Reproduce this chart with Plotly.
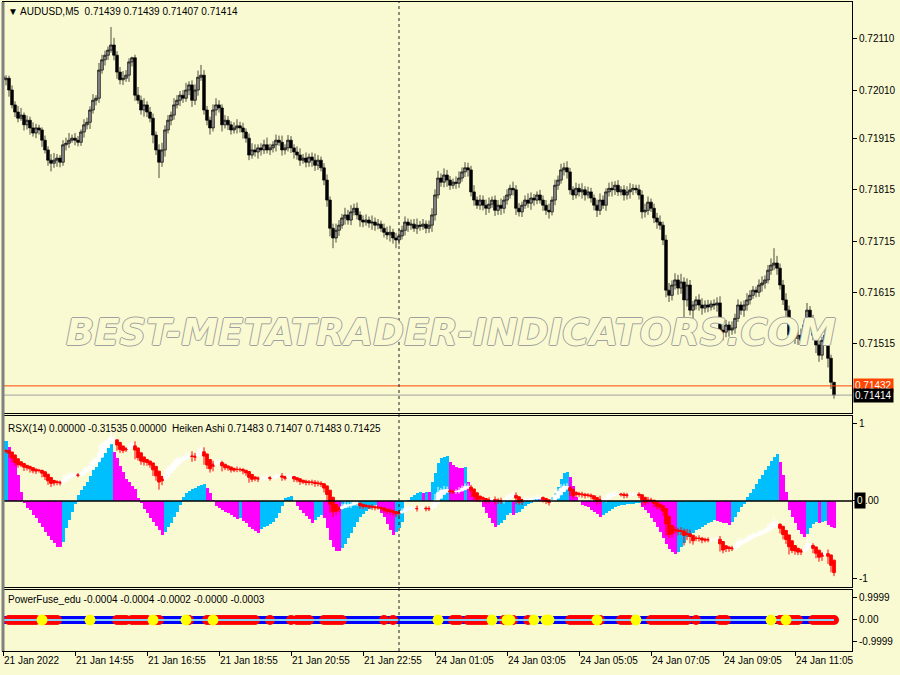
import plotly.graph_objects as go

# ---------------- DATA ----------------
N = 278
bar_index = list(range(N))

# AUDUSD M5 closes, in points (price = pts / 100000)
close_pts = [
    72030, 72033, 72010, 71981, 71967, 71955, 71961, 71942, 71951, 71936,
    71926, 71936, 71932, 71912, 71893, 71873, 71867, 71873, 71877, 71869,
    71903, 71906, 71912, 71916, 71912, 71908, 71928, 71942, 71947, 71971,
    71990, 71994, 72049, 72069, 72078, 72088, 72098, 72078, 72045, 72030,
    72033, 72039, 72065, 72073, 72000, 71990, 71971, 71981, 71967, 71955,
    71922, 71893, 71869, 71893, 71932, 71951, 71961, 71981, 71990, 72000,
    71994, 72010, 72020, 71990, 72010, 72035, 72039, 71971, 71951, 71936,
    71971, 71981, 71975, 71942, 71951, 71942, 71932, 71936, 71940, 71936,
    71928, 71916, 71883, 71893, 71889, 71897, 71893, 71903, 71893, 71897,
    71903, 71912, 71908, 71893, 71897, 71912, 71897, 71889, 71883, 71873,
    71877, 71869, 71879, 71873, 71863, 71873, 71858, 71834, 71795, 71740,
    71721, 71736, 71746, 71760, 71766, 71756, 71772, 71779, 71766, 71756,
    71752, 71756, 71750, 71752, 71746, 71748, 71740, 71732, 71727, 71732,
    71721, 71717, 71725, 71736, 71752, 71746, 71748, 71740, 71746, 71744,
    71748, 71740, 71746, 71766, 71805, 71838, 71830, 71844, 71834, 71824,
    71830, 71828, 71838, 71850, 71858, 71854, 71811, 71795, 71785, 71795,
    71785, 71779, 71787, 71795, 71775, 71785, 71779, 71795, 71805, 71818,
    71815, 71779, 71772, 71785, 71795, 71789, 71799, 71795, 71805, 71795,
    71785, 71775, 71772, 71795, 71824, 71834, 71854, 71858, 71850, 71815,
    71805, 71818, 71811, 71815, 71805, 71811, 71799, 71785, 71775, 71795,
    71785, 71811, 71818, 71815, 71824, 71811, 71815, 71805, 71811, 71815,
    71818, 71815, 71805, 71772, 71775, 71791, 71779, 71760, 71752, 71746,
    71717, 71619, 71609, 71629, 71639, 71623, 71635, 71600, 71629, 71580,
    71590, 71600, 71590, 71584, 71590, 71586, 71592, 71590, 71594, 71541,
    71537, 71551, 71541, 71545, 71564, 71590, 71580, 71590, 71600, 71609,
    71619, 71615, 71629, 71633, 71639, 71658, 71668, 71672, 71662, 71629,
    71600, 71580, 71531, 71541, 71525, 71531, 71521, 71551, 71580, 71560,
    71531, 71512, 71492, 71521, 71531, 71486, 71439, 71414,
]
first_open_pts = 72036
# upper / lower wick lengths beyond the body, in points
wick_up_pts = [
    10, 6, 5, 9, 7, 12, 14, 5, 9, 7, 11, 8, 6, 5, 9, 7, 12, 14, 8, 6,
    9, 11, 14, 7, 10, 8, 5, 11, 9, 7, 12, 6, 14, 10, 9, 7, 35, 14, 8, 10,
    14, 10, 7, 2, 6, 16, 9, 13, 7, 10, 9, 7, 11, 14, 9, 10, 7, 13, 10, 8,
    10, 14, 7, 9, 11, 13, 20, 10, 8, 7, 11, 13, 9, 7, 10, 8, 7, 11, 13, 8,
    10, 7, 9, 13, 11, 7, 9, 10, 14, 8, 7, 11, 9, 13, 7, 10, 8, 7, 11, 13,
    8, 11, 7, 9, 13, 10, 7, 9, 11, 7, 9, 13, 10, 8, 14, 10, 13, 9, 11, 7,
    9, 11, 7, 13, 9, 10, 7, 9, 11, 13, 7, 10, 13, 9, 11, 7, 9, 10, 13, 8,
    10, 7, 9, 13, 11, 14, 9, 13, 10, 8, 7, 11, 13, 9, 11, 10, 8, 13, 7, 10,
    9, 11, 13, 7, 9, 10, 13, 8, 11, 7, 13, 9, 10, 7, 9, 13, 11, 8, 7, 10,
    9, 10, 13, 7, 11, 9, 12, 10, 13, 8, 7, 11, 9, 13, 7, 10, 8, 7, 11, 13,
    9, 7, 11, 13, 8, 10, 7, 9, 11, 13, 8, 7, 10, 9, 13, 11, 7, 9, 10, 13,
    7, 10, 14, 9, 13, 10, 16, 9, 13, 10, 8, 7, 11, 13, 9, 10, 7, 9, 11, 13,
    9, 10, 7, 13, 9, 11, 7, 9, 13, 10, 8, 7, 11, 13, 9, 10, 13, 29, 14, 9,
    10, 13, 9, 7, 11, 9, 13, 10, 14, 8, 11, 13, 9, 7, 10, 9, 7, 0,
]
wick_dn_pts = [
    9, 11, 13, 7, 10, 8, 5, 11, 9, 13, 7, 10, 9, 13, 7, 11, 16, 9, 13, 10,
    7, 11, 9, 5, 10, 8, 7, 11, 9, 13, 7, 10, 9, 7, 11, 9, 5, 10, 13, 9,
    10, 7, 13, 9, 11, 7, 9, 13, 10, 8, 16, 10, 31, 9, 13, 7, 10, 9, 7, 11,
    9, 7, 10, 13, 9, 11, 7, 9, 10, 13, 7, 11, 9, 13, 7, 10, 9, 7, 11, 9,
    13, 9, 10, 7, 9, 13, 11, 8, 7, 10, 9, 13, 7, 11, 9, 7, 10, 13, 9, 11,
    7, 10, 9, 13, 11, 9, 7, 10, 13, 16, 20, 9, 11, 7, 13, 9, 10, 7, 9, 13,
    10, 7, 9, 13, 11, 8, 7, 10, 9, 13, 11, 16, 9, 7, 10, 13, 9, 7, 11, 9,
    7, 10, 9, 13, 11, 7, 9, 10, 13, 9, 7, 11, 9, 7, 10, 13, 9, 11, 7, 9,
    10, 13, 9, 7, 11, 9, 13, 10, 9, 7, 11, 13, 9, 10, 7, 9, 13, 11, 8, 7,
    11, 9, 13, 7, 10, 9, 7, 11, 13, 9, 10, 7, 9, 13, 11, 7, 9, 10, 13, 9,
    7, 11, 9, 13, 10, 8, 7, 11, 9, 13, 10, 7, 9, 13, 11, 9, 7, 10, 13, 9,
    10, 14, 13, 10, 9, 13, 11, 40, 13, 10, 16, 9, 11, 13, 9, 10, 7, 9, 13, 11,
    16, 10, 13, 9, 11, 7, 9, 13, 11, 9, 7, 10, 9, 13, 11, 7, 9, 10, 13, 9,
    10, 13, 16, 9, 11, 13, 9, 10, 7, 13, 10, 16, 13, 9, 10, 18, 13, 7,
]

# RSX(14) histogram values
rsx_values = [
    0.77, 0.78, 0.70, 0.60, 0.50, 0.33, 0.12, -0.02, -0.09, -0.12,
    -0.18, -0.22, -0.28, -0.33, -0.40, -0.45, -0.50, -0.54, -0.59, -0.60,
    -0.53, -0.35, -0.25, -0.14, -0.04, 0.08, 0.14, 0.20, 0.25, 0.32,
    0.40, 0.44, 0.52, 0.57, 0.62, 0.68, 0.74, 0.63, 0.55, 0.45,
    0.37, 0.28, 0.24, 0.20, 0.15, 0.04, -0.03, -0.10, -0.16, -0.22,
    -0.27, -0.32, -0.37, -0.44, -0.40, -0.34, -0.28, -0.21, -0.14, -0.05,
    0.05, 0.10, 0.13, 0.16, 0.17, 0.19, 0.21, 0.22, 0.17, 0.10,
    0.01, -0.07, -0.09, -0.12, -0.14, -0.16, -0.18, -0.21, -0.23, -0.22,
    -0.26, -0.29, -0.33, -0.36, -0.39, -0.41, -0.36, -0.34, -0.32, -0.30,
    -0.27, -0.22, -0.15, -0.06, 0.04, 0.05, 0.06, 0.00, -0.06, -0.11,
    -0.15, -0.19, -0.23, -0.28, -0.25, -0.21, -0.18, -0.22, -0.35, -0.50,
    -0.60, -0.64, -0.65, -0.61, -0.55, -0.48, -0.41, -0.33, -0.27, -0.21,
    -0.17, -0.13, -0.10, -0.07, -0.05, -0.09, -0.15, -0.21, -0.30, -0.37,
    -0.44, -0.40, -0.35, -0.27, 0.00, 0.01, 0.05, 0.08, 0.10, 0.11,
    0.10, 0.12, 0.11, 0.24, 0.36, 0.49, 0.56, 0.57, 0.58, 0.50,
    0.47, 0.44, 0.43, 0.42, 0.44, 0.25, 0.17, 0.08, 0.05, 0.01,
    -0.08, -0.15, -0.22, -0.28, -0.34, -0.31, -0.29, -0.25, -0.18, -0.16,
    -0.18, -0.15, -0.14, -0.10, -0.07, -0.04, -0.02, 0.02, 0.03, 0.02,
    0.01, 0.00, 0.01, 0.05, 0.10, 0.18, 0.28, 0.36, 0.38, 0.31,
    0.20, 0.05, 0.00, -0.05, -0.06, -0.08, -0.11, -0.14, -0.17, -0.20,
    -0.18, -0.16, -0.13, -0.10, -0.08, -0.06, -0.055, -0.05, -0.045, -0.04,
    -0.035, -0.03, -0.03, -0.08, -0.12, -0.16, -0.22, -0.27, -0.33, -0.40,
    -0.48, -0.55, -0.62, -0.66, -0.68, -0.66, -0.60, -0.54, -0.47, -0.44,
    -0.41, -0.38, -0.36, -0.33, -0.31, -0.29, -0.27, -0.25, -0.26, -0.27,
    -0.28, -0.29, -0.31, -0.27, -0.20, -0.14, -0.08, -0.04, 0.05, 0.10,
    0.16, 0.22, 0.28, 0.34, 0.40, 0.45, 0.51, 0.57, 0.61, 0.50,
    0.33, 0.11, -0.12, -0.20, -0.28, -0.37, -0.42, -0.46, -0.42, -0.35,
    -0.30, -0.27, -0.28, -0.27, -0.26, -0.31, -0.33, -0.35,
]

# PowerFuse_edu: bar ranges with red dots, bars with yellow dots
pf_red_ranges = [
    (2, 11), (14, 18), (38, 41), (43, 48), (51, 52), (62, 62), (68, 69),
    (71, 84), (89, 89), (96, 96), (98, 102), (107, 113), (127, 127),
    (130, 130), (150, 152), (155, 161), (167, 170), (175, 175),
    (189, 197), (199, 199), (206, 209), (216, 228), (231, 231),
    (239, 241), (259, 265), (270, 277),
]
pf_yellow_bars = [13, 29, 50, 61, 70, 145, 163, 168, 169, 177, 181, 182,
                  198, 211, 256, 261]
pf_value = 0.0

tick_bars = [0, 24, 48, 72, 96, 120, 144, 168, 192, 216, 240, 264]
tick_labels = ["21 Jan 2022", "21 Jan 14:55", "21 Jan 16:55", "21 Jan 18:55",
               "21 Jan 20:55", "21 Jan 22:55", "24 Jan 01:05", "24 Jan 03:05",
               "24 Jan 05:05", "24 Jan 07:05", "24 Jan 09:05", "24 Jan 11:05"]
price_ticks = [0.72110, 0.72010, 0.71915, 0.71815, 0.71715, 0.71615, 0.71515]
ask_price = 0.71432
bid_price = 0.71414
marker_bar = 132

# ---------------- BUILD ----------------
opens_pts = [first_open_pts] + close_pts[:-1]
o = [p / 1e5 for p in opens_pts]
c = [p / 1e5 for p in close_pts]
h = [(max(a, b) + u) / 1e5 for a, b, u in zip(opens_pts, close_pts, wick_up_pts)]
l = [(min(a, b) - d) / 1e5 for a, b, d in zip(opens_pts, close_pts, wick_dn_pts)]

# Heiken Ashi
ha_c = [(o[i] + h[i] + l[i] + c[i]) / 4 for i in range(N)]
ha_o = [(o[0] + c[0]) / 2]
for i in range(1, N):
    ha_o.append((ha_o[i - 1] + ha_c[i - 1]) / 2)
ha_h = [max(h[i], ha_o[i], ha_c[i]) for i in range(N)]
ha_l = [min(l[i], ha_o[i], ha_c[i]) for i in range(N)]

rsx_colors = []
for i, v in enumerate(rsx_values):
    up = i == 0 or v >= rsx_values[i - 1]
    rsx_colors.append("#00BFFF" if up else "#FF00FF")

red_bars = []
for a, b in pf_red_ranges:
    red_bars.extend(range(a, b + 1))

BG = "#FAFAD2"
FONT = "Liberation Sans, Arial, sans-serif"
FS = 10

fig = go.Figure()

fig.add_trace(go.Candlestick(
    x=bar_index, open=o, high=h, low=l, close=c, xaxis="x", yaxis="y",
    increasing=dict(line=dict(color="black", width=0.7), fillcolor="#8c8c8c"),
    decreasing=dict(line=dict(color="black", width=0.7), fillcolor="black"),
    whiskerwidth=0, showlegend=False, hoverinfo="skip"))

fig.add_trace(go.Bar(
    x=bar_index, y=rsx_values, xaxis="x2", yaxis="y2", width=1.0,
    marker=dict(color=rsx_colors, line=dict(width=0)), showlegend=False))

fig.add_trace(go.Candlestick(
    x=bar_index, open=ha_o, high=ha_h, low=ha_l, close=ha_c, xaxis="x2", yaxis="y4",
    increasing=dict(line=dict(color="white", width=1), fillcolor="white"),
    decreasing=dict(line=dict(color="red", width=1), fillcolor="red"),
    whiskerwidth=0, showlegend=False, hoverinfo="skip"))

fig.add_trace(go.Scatter(
    x=bar_index, y=[pf_value] * N, xaxis="x3", yaxis="y3", mode="lines",
    line=dict(color="#0000FF", width=8), showlegend=False))
fig.add_trace(go.Scatter(
    x=red_bars, y=[pf_value] * len(red_bars), xaxis="x3", yaxis="y3", mode="markers",
    marker=dict(color="#FF0000", size=10, line=dict(width=0)), showlegend=False))
fig.add_trace(go.Scatter(
    x=bar_index, y=[pf_value] * N, xaxis="x3", yaxis="y3", mode="lines",
    line=dict(color="#87CEFA", width=2), showlegend=False))
fig.add_trace(go.Scatter(
    x=pf_yellow_bars, y=[pf_value] * len(pf_yellow_bars), xaxis="x3", yaxis="y3",
    mode="markers", marker=dict(color="#FFFF00", size=11, line=dict(width=0)),
    showlegend=False))

axis_common = dict(showgrid=False, zeroline=False, showline=True, linecolor="black",
                   linewidth=1, mirror=True)
xr = [0, 283]
fig.update_layout(
    width=900, height=675,
    margin=dict(l=3, r=48, t=2, b=24, autoexpand=False),
    paper_bgcolor=BG, plot_bgcolor=BG,
    font=dict(family=FONT, size=FS, color="black"),
    bargap=0, boxgap=0.1, boxgroupgap=0,
    xaxis=dict(domain=[0, 1], anchor="y", range=xr, showticklabels=False, ticks="",
               rangeslider=dict(visible=False), **axis_common),
    xaxis2=dict(domain=[0, 1], anchor="y2", range=xr, matches="x", showticklabels=False,
                ticks="", rangeslider=dict(visible=False), **axis_common),
    xaxis3=dict(domain=[0, 1], anchor="y3", range=xr, matches="x", tickmode="array",
                tickvals=tick_bars, ticktext=tick_labels, ticks="outside", ticklen=4,
                tickcolor="black", ticklabelposition="outside right",
                tickfont=dict(family=FONT, size=FS),
                rangeslider=dict(visible=False), **axis_common),
    yaxis=dict(domain=[0.3667, 1], anchor="x", side="right", range=[0.71379, 0.72182],
               tickmode="array", tickvals=price_ticks,
               ticktext=[f"{p:.5f}" for p in price_ticks], ticks="outside", ticklen=4,
               tickcolor="black", **axis_common),
    yaxis2=dict(domain=[0.0986, 0.3621], anchor="x2", side="right", range=[-1.11, 1.097],
                tickmode="array", tickvals=[1, 0, -1], ticktext=["1", "", "-1"],
                ticks="outside", ticklen=4, tickcolor="black", **axis_common),
    yaxis4=dict(overlaying="y2", anchor="x2", range=[0.71353, 0.72205], visible=False,
                showgrid=False, zeroline=False),
    yaxis3=dict(domain=[0, 0.094], anchor="x3", side="right", range=[-1.41, 1.36],
                tickmode="array", tickvals=[0.9999, 0, -0.9999],
                ticktext=["0.9999", "0.00", "-0.9999"], ticks="outside", ticklen=4,
                tickcolor="black", **axis_common),
)

shapes = [
    dict(type="line", xref="x domain", yref="y", x0=0, x1=1, y0=ask_price, y1=ask_price,
         line=dict(color="#FF4500", width=1)),
    dict(type="line", xref="x domain", yref="y", x0=0, x1=1, y0=bid_price, y1=bid_price,
         line=dict(color="#A0A0A0", width=1)),
    dict(type="line", xref="x2 domain", yref="y2", x0=0, x1=1, y0=0, y1=0,
         line=dict(color="black", width=1.5)),
    dict(type="line", xref="x", yref="paper", x0=marker_bar, x1=marker_bar, y0=0, y1=1,
         line=dict(color="#202020", width=1, dash="3px,3px")),
    dict(type="line", xref="paper", yref="paper", x0=0, x1=0, y0=0, y1=1,
         line=dict(color="#808080", width=3)),
]
fig.update_layout(shapes=shapes)

ann = [
    dict(text="▼ AUDUSD,M5  0.71439 0.71439 0.71407 0.71414", xref="paper", yref="paper",
         x=0.003, y=0.9846, xanchor="left", yanchor="middle", showarrow=False,
         font=dict(family=FONT, size=FS, color="black")),
    dict(text="RSX(14) 0.00000 -0.31535 0.00000  Heiken Ashi 0.71483 0.71407 0.71483 0.71425",
         xref="paper", yref="paper", x=0.003, y=0.3436, xanchor="left", yanchor="middle",
         showarrow=False, font=dict(family=FONT, size=FS, color="black")),
    dict(text="PowerFuse_edu -0.0004 -0.0004 -0.0002 -0.0000 -0.0003", xref="paper",
         yref="paper", x=0.003, y=0.0786, xanchor="left", yanchor="middle", showarrow=False,
         font=dict(family=FONT, size=FS, color="black")),
    dict(text=f"{ask_price:.5f}", xref="paper", yref="y", x=1, y=ask_price, xanchor="left",
         yanchor="middle", xshift=1, showarrow=False, bgcolor="#FF4500", borderpad=1,
         font=dict(family=FONT, size=FS, color="white")),
    dict(text=f"{bid_price:.5f}", xref="paper", yref="y", x=1, y=bid_price, xanchor="left",
         yanchor="middle", xshift=1, showarrow=False, bgcolor="black", borderpad=1,
         font=dict(family=FONT, size=FS, color="white")),
    # RSX current-value marker "0.00" (first digit boxed)
    dict(text="0", xref="paper", yref="y2", x=1, y=0, xanchor="left", yanchor="middle",
         xshift=2, showarrow=False, bgcolor="black", borderpad=2,
         font=dict(family=FONT, size=FS, color="#FAFAD2")),
    dict(text=".00", xref="paper", yref="y2", x=1, y=0, xanchor="left", yanchor="middle",
         xshift=11, showarrow=False, font=dict(family=FONT, size=FS, color="black")),
    dict(text="<i><b>BEST-METATRADER-INDICATORS.COM</b></i>", xref="paper", yref="paper",
         x=0.528, y=0.49, xanchor="center", yanchor="middle", showarrow=False,
         font=dict(family="DejaVu Sans", size=37, color=BG,
                   shadow="1px 0 #a0a0a0, -1px 0 #a0a0a0, 0 1px #a0a0a0, 0 -1px #a0a0a0")),
]
fig.update_layout(annotations=ann)

fig.write_html("out.html", config={"displayModeBar": False},
               post_script="document.body.style.margin='0';")
